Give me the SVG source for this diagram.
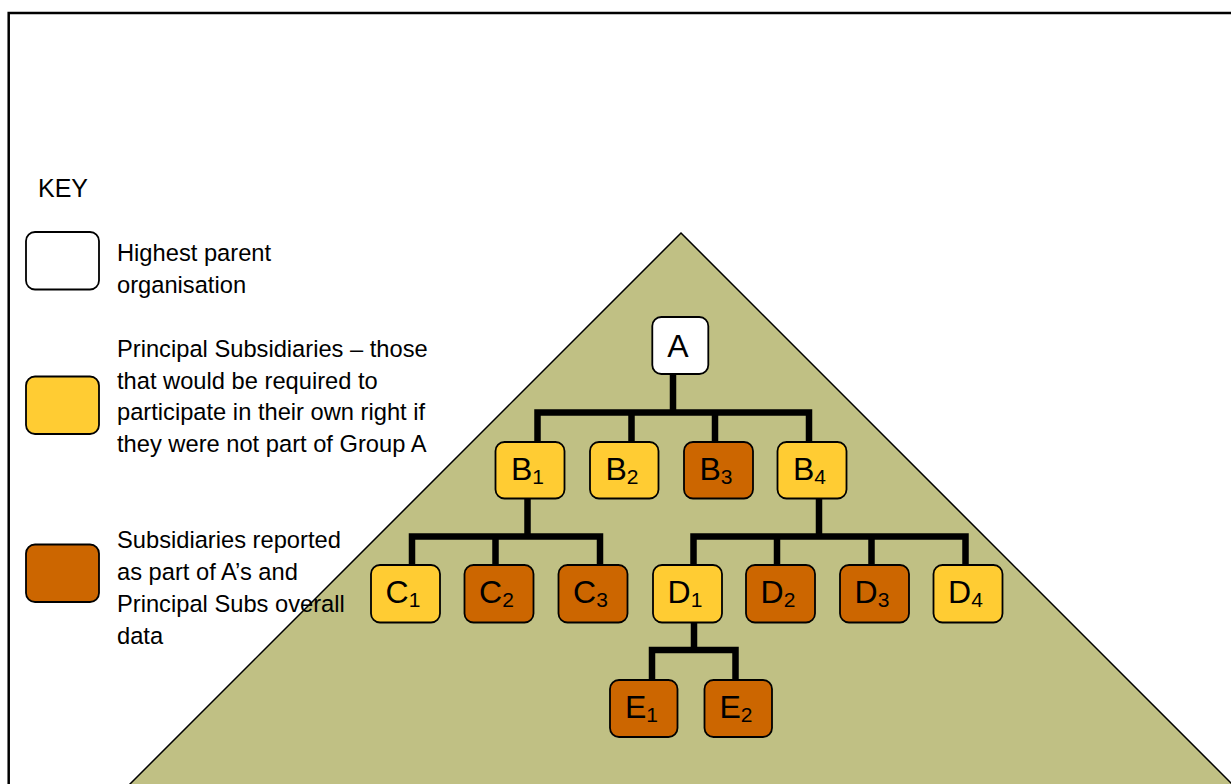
<svg xmlns="http://www.w3.org/2000/svg" width="1231" height="784" viewBox="0 0 1231 784">
<defs>
<style>
.frame{fill:none;stroke:#000;stroke-width:2.5}
.tri{fill:#C0C084;stroke:#000;stroke-width:1.5}
.box{stroke:#000;stroke-width:1.8}
.w{fill:#FFFFFF}
.y{fill:#FFCC33}
.o{fill:#CC6600}
.conn{fill:none;stroke:#000;stroke-width:6.5;stroke-linejoin:miter;stroke-linecap:butt}
.lbl{font-family:"Liberation Sans",Arial,sans-serif;font-size:32px;fill:#000;text-anchor:middle}
.sub{font-size:21px}
.key{font-family:"Liberation Sans",Arial,sans-serif;font-size:25px;fill:#000}
.leg{font-family:"Liberation Sans",Arial,sans-serif;font-size:23.7px;fill:#000}
</style>
</defs>
<rect x="0" y="0" width="1231" height="784" fill="#FFFFFF"/>
<path class="frame" d="M 8.7 790 V 13 H 1231"/>
<polygon class="tri" points="681,233 1240,792 122,792"/>

<g id="legend">
<text class="key" x="38" y="197">KEY</text>
<g id="key-white">
<rect class="box w" x="26" y="232" width="73" height="57.5" rx="9"/>
<text class="leg" x="117" y="261">Highest parent</text>
<text class="leg" x="117" y="293">organisation</text>
</g>
<g id="key-yellow">
<rect class="box y" x="26" y="376.5" width="73" height="57.5" rx="9"/>
<text class="leg" x="117" y="356.5">Principal Subsidiaries – those</text>
<text class="leg" x="117" y="388.5">that would be required to</text>
<text class="leg" x="117" y="420.2">participate in their own right if</text>
<text class="leg" x="117" y="451.8">they were not part of Group A</text>
</g>
<g id="key-orange">
<rect class="box o" x="26" y="544.5" width="73" height="57.5" rx="9"/>
<text class="leg" x="117" y="548.3">Subsidiaries reported</text>
<text class="leg" x="117" y="580">as part of A’s and</text>
<text class="leg" x="117" y="612">Principal Subs overall</text>
<text class="leg" x="117" y="643.5">data</text>
</g>
</g>

<g id="connectors">
<path class="conn" d="M 673 374 V 412.5"/>
<path class="conn" d="M 537.5 442 V 412.5 H 809 V 442"/>
<path class="conn" d="M 631.5 442 V 412.5"/>
<path class="conn" d="M 715 442 V 412.5"/>
<path class="conn" d="M 527.5 498 V 536.5"/>
<path class="conn" d="M 412 565 V 536.5 H 600 V 565"/>
<path class="conn" d="M 495.5 565 V 536.5"/>
<path class="conn" d="M 819 498 V 536.5"/>
<path class="conn" d="M 693.5 565 V 536.5 H 965.5 V 565"/>
<path class="conn" d="M 777 565 V 536.5"/>
<path class="conn" d="M 871.5 565 V 536.5"/>
<path class="conn" d="M 694 622 V 650"/>
<path class="conn" d="M 652 680 V 650 H 735.5 V 680"/>
</g>

<g id="node-A"><rect class="box w" x="652.3" y="317" width="56" height="57" rx="9"/><text class="lbl" x="678" y="356.5">A</text></g>
<g id="node-B1"><rect class="box y" x="495.5" y="442" width="69" height="56.5" rx="9"/><text class="lbl" x="527.5" y="479.5">B<tspan class="sub" dy="4">1</tspan></text></g>
<g id="node-B2"><rect class="box y" x="590" y="442" width="68.5" height="56.5" rx="9"/><text class="lbl" x="622" y="479.5">B<tspan class="sub" dy="4">2</tspan></text></g>
<g id="node-B3"><rect class="box o" x="684" y="442" width="69" height="56.5" rx="9"/><text class="lbl" x="716" y="479.5">B<tspan class="sub" dy="4">3</tspan></text></g>
<g id="node-B4"><rect class="box y" x="777.5" y="442" width="69" height="56.5" rx="9"/><text class="lbl" x="809.5" y="479.5">B<tspan class="sub" dy="4">4</tspan></text></g>

<g id="node-C1"><rect class="box y" x="371" y="565" width="69" height="57.5" rx="9"/><text class="lbl" x="403" y="602.5">C<tspan class="sub" dy="4">1</tspan></text></g>
<g id="node-C2"><rect class="box o" x="464.5" y="565" width="69" height="57.5" rx="9"/><text class="lbl" x="496.5" y="602.5">C<tspan class="sub" dy="4">2</tspan></text></g>
<g id="node-C3"><rect class="box o" x="558.5" y="565" width="69" height="57.5" rx="9"/><text class="lbl" x="590.5" y="602.5">C<tspan class="sub" dy="4">3</tspan></text></g>

<g id="node-D1"><rect class="box y" x="653" y="565" width="69" height="57.5" rx="9"/><text class="lbl" x="685" y="602.5">D<tspan class="sub" dy="4">1</tspan></text></g>
<g id="node-D2"><rect class="box o" x="746" y="565" width="69" height="57.5" rx="9"/><text class="lbl" x="778" y="602.5">D<tspan class="sub" dy="4">2</tspan></text></g>
<g id="node-D3"><rect class="box o" x="840" y="565" width="69" height="57.5" rx="9"/><text class="lbl" x="872" y="602.5">D<tspan class="sub" dy="4">3</tspan></text></g>
<g id="node-D4"><rect class="box y" x="933.5" y="565" width="69" height="57.5" rx="9"/><text class="lbl" x="965.5" y="602.5">D<tspan class="sub" dy="4">4</tspan></text></g>

<g id="node-E1"><rect class="box o" x="610" y="680" width="67.5" height="57" rx="9"/><text class="lbl" x="641.5" y="717.5">E<tspan class="sub" dy="4">1</tspan></text></g>
<g id="node-E2"><rect class="box o" x="704.5" y="680" width="67.5" height="57" rx="9"/><text class="lbl" x="736" y="717.5">E<tspan class="sub" dy="4">2</tspan></text></g>
</svg>
